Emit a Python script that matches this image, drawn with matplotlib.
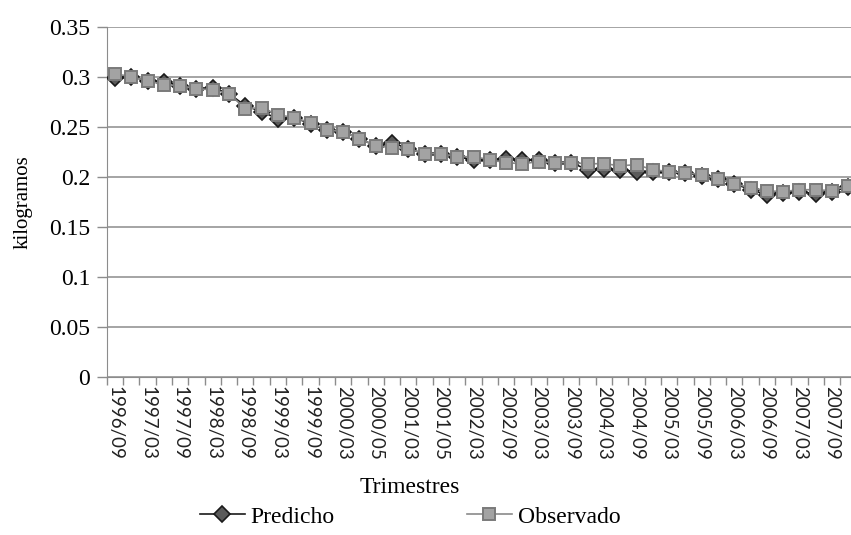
import matplotlib

matplotlib.use("Agg")
import matplotlib.pyplot as plt
from matplotlib.ticker import FixedLocator

# quarterly series, 46 periods from 1996/09
tick_labels = [
    "1996/09", "1997/03", "1997/09", "1998/03", "1998/09", "1999/03",
    "1999/09", "2000/03", "2000/05", "2001/03", "2001/05", "2002/03",
    "2002/09", "2003/03", "2003/09", "2004/03", "2004/09", "2005/03",
    "2005/09", "2006/03", "2006/09", "2007/03", "2007/09",
]

predicho = [
    0.299, 0.300, 0.296, 0.295, 0.291, 0.288, 0.289, 0.283, 0.271, 0.265,
    0.258, 0.259, 0.253, 0.247, 0.245, 0.238, 0.231, 0.234, 0.228, 0.223,
    0.223, 0.220, 0.217, 0.217, 0.218, 0.217, 0.217, 0.214, 0.214, 0.207,
    0.208, 0.207, 0.205, 0.205, 0.205, 0.204, 0.201, 0.198, 0.193, 0.187,
    0.182, 0.184, 0.185, 0.183, 0.185, 0.190,
]

observado = [
    0.303, 0.300, 0.296, 0.292, 0.291, 0.288, 0.287, 0.283, 0.268, 0.269,
    0.262, 0.259, 0.254, 0.247, 0.245, 0.238, 0.231, 0.229, 0.228, 0.223,
    0.223, 0.220, 0.220, 0.217, 0.214, 0.213, 0.215, 0.214, 0.214, 0.213,
    0.213, 0.211, 0.212, 0.207, 0.205, 0.204, 0.202, 0.198, 0.193, 0.189,
    0.186, 0.185, 0.187, 0.187, 0.186, 0.191,
]

y_ticks = [0, 0.05, 0.1, 0.15, 0.2, 0.25, 0.3, 0.35]
y_tick_labels = ["0", "0.05", "0.1", "0.15", "0.2", "0.25", "0.3", "0.35"]

SERIF = ["Liberation Serif", "DejaVu Serif"]
SANS = ["Lato", "DejaVu Sans"]
GRID = "#8c8c8c"

fig = plt.figure(figsize=(8.51, 5.35), dpi=100)
fig.patch.set_facecolor("#ffffff")
# plot area runs past the right edge, as in the cropped original
ax = fig.add_axes([0.1255, 0.296, 0.881, 0.654])

x = list(range(len(observado)))
ax.plot(x, predicho, color="#1a1a1a", linewidth=1.2, marker="D", markersize=7.8,
        markerfacecolor="#5a5a5a", markeredgecolor="#1a1a1a", markeredgewidth=1.2,
        label="Predicho", zorder=3)
ax.plot(x, observado, color="#8a8a8a", linewidth=1.2, marker="s", markersize=8,
        markerfacecolor="#a3a3a3", markeredgecolor="#7a7a7a", markeredgewidth=1.4,
        label="Observado", zorder=4)

ax.set_xlim(-0.5, len(observado) - 0.5)
ax.set_ylim(0, 0.35)
ax.set_yticks(y_ticks)
ax.set_yticklabels(y_tick_labels, family=SERIF, fontsize=17)
ax.grid(True, axis="y", color=GRID, linewidth=1.1)
ax.set_axisbelow(True)

ax.set_xticks(range(0, len(observado), 2))
ax.set_xticklabels(tick_labels, rotation=-90, family=SANS, fontsize=13.5,
                   color="#222222")
ax.xaxis.set_minor_locator(FixedLocator([i - 0.5 for i in range(len(observado) + 1)]))
ax.tick_params(axis="x", which="major", length=0, pad=7)
ax.tick_params(axis="x", which="minor", length=6, width=1.0, color=GRID, direction="out")
ax.tick_params(axis="y", length=7, width=1.0, color=GRID, direction="out", pad=5)

ax.spines[["top", "right"]].set_visible(False)
ax.spines["left"].set_color(GRID)
ax.spines["bottom"].set_color(GRID)

ax.set_ylabel("kilogramos", family=SERIF, fontsize=15, labelpad=12)
fig.text(0.482, 0.088, "Trimestres", family=SERIF, fontsize=17, ha="center", va="center")

fig.legend(loc="center", bbox_to_anchor=(0.482, 0.034), ncols=2, frameon=False,
           prop={"family": SERIF, "size": 17}, columnspacing=5.6, handlelength=1.9,
           handletextpad=0.25)

fig.savefig("out.png", dpi=100)
